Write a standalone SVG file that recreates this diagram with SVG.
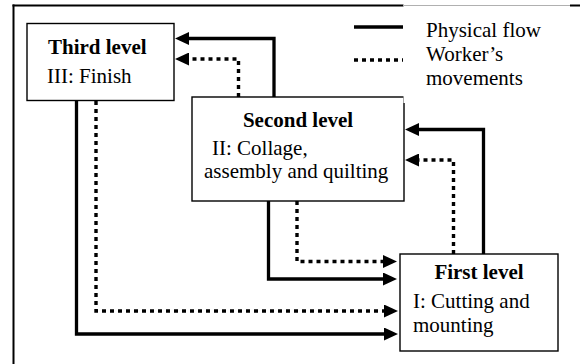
<svg xmlns="http://www.w3.org/2000/svg" width="580" height="364" viewBox="0 0 580 364">
  <style>
    .box { fill: #ffffff; stroke: #000000; stroke-width: 1.4; }
    .t { font-family: "Liberation Serif", "Times New Roman", serif; font-size: 21px; fill: #000000; }
    .b { font-weight: bold; }
    .solid { fill: none; stroke: #000000; stroke-width: 3.3; }
    .dot { fill: none; stroke: #000000; stroke-width: 3.4; stroke-dasharray: 4 4; }
    .rule { fill: #000000; }
  </style>
  <defs>
    <marker id="ah" viewBox="0 0 14 13" markerWidth="14" markerHeight="13" refX="0" refY="6.5" orient="auto" markerUnits="userSpaceOnUse">
      <path d="M0,0 L14,6.5 L0,13 Z" fill="#000000"/>
    </marker>
  </defs>

  <g id="page-edge">
    <rect class="rule" x="12.5" y="4.5" width="2" height="360"/>
    <rect class="rule" x="12.5" y="4.5" width="391" height="2"/>
    <rect x="403" y="5" width="167" height="1" fill="#b0b0b0"/>
    <rect class="rule" x="570" y="4.5" width="10" height="2"/>
  </g>

  <g id="connectors">
    <path class="solid" d="M274,97 V38.5 H189" marker-end="url(#ah)"/>
    <path class="dot" d="M238.5,97 V59 H189" marker-end="url(#ah)"/>
    <path class="solid" d="M76.5,101 V334 H384" marker-end="url(#ah)"/>
    <path class="dot" d="M96,101 V311 H384" marker-end="url(#ah)"/>
    <path class="solid" d="M268.5,201 V279 H383" marker-end="url(#ah)"/>
    <path class="dot" d="M297,201 V261.5 H383" marker-end="url(#ah)"/>
    <path class="solid" d="M483.5,254 V129.5 H419" marker-end="url(#ah)"/>
    <path class="dot" d="M453.5,254 V160 H419" marker-end="url(#ah)"/>
  </g>

  <g id="third-level">
    <rect class="box" x="27" y="23.5" width="147" height="77"/>
    <text class="t b" x="48" y="54">Third level</text>
    <text class="t" x="47" y="83">III: Finish</text>
  </g>

  <g id="second-level">
    <rect class="box" x="192" y="97" width="212" height="104"/>
    <text class="t b" x="298" y="127" text-anchor="middle">Second level</text>
    <text class="t" x="212" y="155">II: Collage,</text>
    <text class="t" x="204" y="178">assembly and quilting</text>
  </g>

  <g id="first-level">
    <rect class="box" x="400" y="254" width="158" height="97"/>
    <text class="t b" x="479" y="279" text-anchor="middle">First level</text>
    <text class="t" x="413" y="308">I: Cutting and</text>
    <text class="t" x="413" y="332">mounting</text>
  </g>

  <g id="legend">
    <rect x="403.5" y="7" width="166.5" height="96" fill="#ffffff"/>
    <line class="solid" x1="354" y1="27" x2="403" y2="27"/>
    <line class="dot" x1="354" y1="60" x2="403" y2="60"/>
    <text class="t" x="426" y="37">Physical flow</text>
    <text class="t" x="426" y="61">Worker’s</text>
    <text class="t" x="426" y="85">movements</text>
  </g>
</svg>
